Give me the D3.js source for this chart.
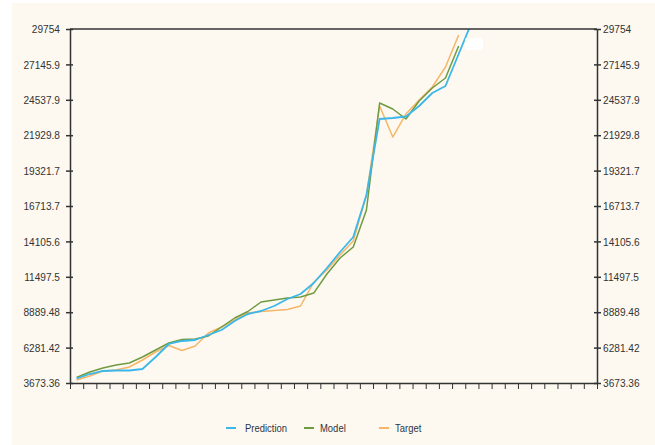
<!DOCTYPE html>
<html>
<head>
<meta charset="utf-8">
<script src="https://cdnjs.cloudflare.com/ajax/libs/d3/7.8.5/d3.min.js"></script>
<style>
  body { margin: 0; background: #ffffff; }
  svg { display: block; }
</style>
</head>
<body>
<div id="container"></div>
<script>
let w = 655;
let h = 445;

// data, one value per x slot
let slots = d3.range(40);
let prediction = [4005, 4336, 4558, 4594, 4594, 4705, 5589, 6547, 6768, 6841, 7210, 7578, 8241, 8757, 8978, 9346, 9862, 10230, 11040, 12146, 13325, 14430, 17524, 23123, 23197, 23308, 24081, 25039, 25555, 27912, 30270];
let model = [4079, 4484, 4779, 5000, 5147, 5589, 6105, 6620, 6878, 6915, 7136, 7799, 8462, 8941, 9641, 9788, 9936, 10009, 10300, 11704, 12883, 13693, 16419, 24302, 23860, 23123, 24449, 25407, 26144, 28502];
let target = [3894, 4189, 4558, 4630, 4852, 5368, 5957, 6436, 6068, 6399, 7357, 7799, 8315, 8831, 8941, 9015, 9088, 9346, 11100, 11999, 13104, 14135, 17524, 24081, 21797, 23492, 24523, 25481, 26954, 29312];

let yTicks = [3673.36, 6281.42, 8889.48, 11497.5, 14105.6, 16713.7, 19321.7, 21929.8, 24537.9, 27145.9, 29754];
let yTickLabels = ["3673.36", "6281.42", "8889.48", "11497.5", "14105.6", "16713.7", "19321.7", "21929.8", "24537.9", "27145.9", "29754"];

let seriesNames = ["Prediction", "Model", "Target"];
let seriesColors = ["#3cb7ea", "#6f9b3f", "#f6b567"];
let seriesData = [prediction, model, target];

let plotLeft = 70, plotRight = 597, plotTop = 29, plotBottom = 383;
let labelFont = "'Liberation Sans', Arial, sans-serif";
let squeeze = 0.88; // labels in the picture are a narrow face

let viz = d3.select("#container").append("svg")
    .attr("width", w)
    .attr("height", h)
;

viz.append("rect")
    .attr("x", 12).attr("y", 3)
    .attr("width", w - 12).attr("height", h - 3)
    .attr("fill", "#fdf9f1")
;

let x = d3.scaleLinear().domain([0, slots.length]).range([plotLeft, plotRight]);
let y = d3.scaleLinear().domain([yTicks[0], yTicks[yTicks.length - 1]]).range([plotBottom, plotTop]);

viz.append("clipPath").attr("id", "plotClip")
  .append("rect")
    .attr("x", plotLeft).attr("y", plotTop)
    .attr("width", plotRight - plotLeft).attr("height", plotBottom - plotTop)
;

// lines
let lineMaker = d3.line()
    .x(function(d, i) { return x(i + 0.5); })
    .y(function(d) { return y(d); })
;

let lineGroup = viz.append("g").attr("clip-path", "url(#plotClip)");
// draw target first, prediction on top
[2, 1, 0].forEach(function(k) {
  lineGroup.append("path")
      .datum(seriesData[k])
      .attr("d", lineMaker)
      .attr("fill", "none")
      .attr("stroke", seriesColors[k])
      .attr("stroke-width", k == 0 ? 1.8 : 1.5)
      .attr("stroke-linejoin", "round")
  ;
});

// small white patch near the top of the lines
viz.append("rect")
    .attr("x", 465).attr("y", 38)
    .attr("width", 18).attr("height", 12)
    .attr("rx", 2)
    .attr("fill", "#ffffff")
;

// top border
viz.append("line")
    .attr("x1", plotLeft).attr("x2", plotRight)
    .attr("y1", plotTop).attr("y2", plotTop)
    .attr("stroke", "#333").attr("stroke-width", 1.5)
;

// x axis: ticks on slot edges, no labels
let xAxis = viz.append("g")
    .attr("transform", "translate(0," + plotBottom + ")")
    .call(d3.axisBottom(x).tickValues(d3.range(slots.length + 1)).tickFormat("").tickSize(6).tickSizeOuter(0))
;
xAxis.select(".domain").attr("stroke", "#333").attr("stroke-width", 1.5);
xAxis.selectAll(".tick line").attr("stroke", "#333").attr("stroke-width", 1);

function styleY(g, side, gap) {
  g.select(".domain").attr("stroke", "#333").attr("stroke-width", 1.5);
  g.selectAll(".tick line")
      .attr("x1", -3 * side).attr("x2", 4 * side)
      .attr("stroke", "#333").attr("stroke-width", 1.5);
  g.selectAll(".tick text")
      .attr("font-family", labelFont)
      .attr("font-size", 11.5)
      .attr("fill", "#333")
      .attr("x", gap * side / squeeze)
      .attr("transform", "scale(" + squeeze + ",1)");
}

let yLeft = viz.append("g")
    .attr("transform", "translate(" + plotLeft + ",0)")
    .call(d3.axisLeft(y).tickValues(yTicks).tickFormat(function(d, i) { return yTickLabels[i]; }).tickSize(4).tickSizeOuter(0))
;
styleY(yLeft, -1, 10);

let yRight = viz.append("g")
    .attr("transform", "translate(" + plotRight + ",0)")
    .call(d3.axisRight(y).tickValues(yTicks).tickFormat(function(d, i) { return yTickLabels[i]; }).tickSize(4).tickSizeOuter(0))
;
styleY(yRight, 1, 6);

// legend
let legendX = [226, 304, 379];
let legend = viz.append("g").attr("class", "legend");
seriesNames.forEach(function(name, i) {
  legend.append("line")
      .attr("x1", legendX[i]).attr("x2", legendX[i] + 10)
      .attr("y1", 428).attr("y2", 428)
      .attr("stroke", seriesColors[i])
      .attr("stroke-width", 2)
  ;
  legend.append("text")
      .text(name)
      .attr("x", (legendX[i] + (i == 0 ? 19 : 16)) / 0.86)
      .attr("y", 432)
      .attr("transform", "scale(0.86,1)")
      .attr("font-family", labelFont)
      .attr("font-size", 11)
      .attr("fill", "#2f3340")
  ;
});
</script>
</body>
</html>
